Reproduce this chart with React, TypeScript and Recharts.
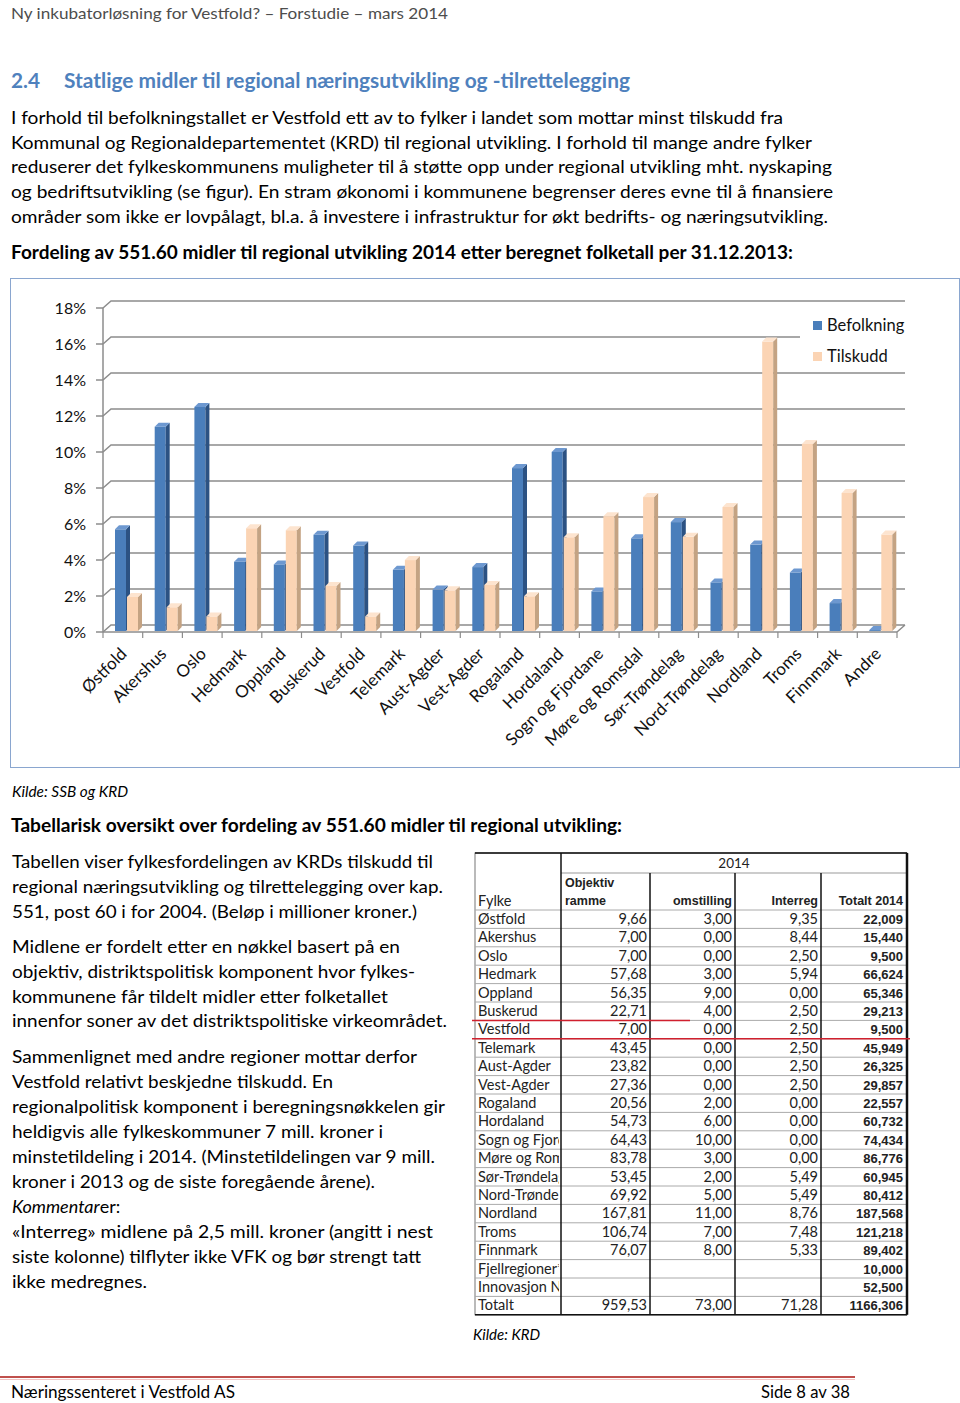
import React from "react";
import { Bar, BarChart, CartesianGrid, XAxis, YAxis } from "recharts";

// fylker in chart order
const regions = [
  "Østfold", "Akershus", "Oslo", "Hedmark", "Oppland", "Buskerud", "Vestfold",
  "Telemark", "Aust-Agder", "Vest-Agder", "Rogaland", "Hordaland",
  "Sogn og Fjordane", "Møre og Romsdal", "Sør-Trøndelag", "Nord-Trøndelag",
  "Nordland", "Troms", "Finnmark", "Andre",
];
// share of population, %
const befolkning = [
  5.65, 11.35, 12.45, 3.85, 3.7, 5.35, 4.75, 3.4, 2.3, 3.55, 9.05, 9.95, 2.2,
  5.15, 6.05, 2.7, 4.8, 3.25, 1.55, 0.05,
];
// share of grants, %
const tilskudd = [
  1.89, 1.32, 0.81, 5.71, 5.6, 2.5, 0.81, 3.94, 2.26, 2.56, 1.93, 5.21, 6.38,
  7.44, 5.23, 6.89, 16.08, 10.39, 7.67, 5.36,
];
const yTicks = [0, 2, 4, 6, 8, 10, 12, 14, 16, 18];

// table (mill. kr)
const tblFylke = [
  "Østfold", "Akershus", "Oslo", "Hedmark", "Oppland", "Buskerud", "Vestfold",
  "Telemark", "Aust-Agder", "Vest-Agder", "Rogaland", "Hordaland",
  "Sogn og Fjordane", "Møre og Romsdal", "Sør-Trøndelag", "Nord-Trøndelag",
  "Nordland", "Troms", "Finnmark", "Fjellregioner*", "Innovasjon Norge", "Totalt",
];
const tblObjektiv = [
  "9,66", "7,00", "7,00", "57,68", "56,35", "22,71", "7,00", "43,45", "23,82",
  "27,36", "20,56", "54,73", "64,43", "83,78", "53,45", "69,92", "167,81",
  "106,74", "76,07", "", "", "959,53",
];
const tblOmstilling = [
  "3,00", "0,00", "0,00", "3,00", "9,00", "4,00", "0,00", "0,00", "0,00",
  "0,00", "2,00", "6,00", "10,00", "3,00", "2,00", "5,00", "11,00", "7,00",
  "8,00", "", "", "73,00",
];
const tblInterreg = [
  "9,35", "8,44", "2,50", "5,94", "0,00", "2,50", "2,50", "2,50", "2,50",
  "2,50", "0,00", "0,00", "0,00", "0,00", "5,49", "5,49", "8,76", "7,48",
  "5,33", "", "", "71,28",
];
const tblTotalt = [
  "22,009", "15,440", "9,500", "66,624", "65,346", "29,213", "9,500", "45,949",
  "26,325", "29,857", "22,557", "60,732", "74,434", "86,776", "60,945",
  "80,412", "187,568", "121,218", "89,402", "10,000", "52,500", "1166,306",
];

const introLines = [
  "I forhold til befolkningstallet er Vestfold ett av to fylker i landet som mottar minst tilskudd fra",
  "Kommunal og Regionaldepartementet (KRD) til regional utvikling. I forhold til mange andre fylker",
  "reduserer det fylkeskommunens muligheter til å støtte opp under regional utvikling mht. nyskaping",
  "og bedriftsutvikling (se figur). En stram økonomi i kommunene begrenser deres evne til å finansiere",
  "områder som ikke er lovpålagt, bl.a. å investere i infrastruktur for økt bedrifts- og næringsutvikling.",
];
const introEnds = [783, 812, 832, 833, 828];

const leftLines = [
  "Tabellen viser fylkesfordelingen av KRDs tilskudd til",
  "regional næringsutvikling og tilrettelegging over kap.",
  "551, post 60 i for 2004. (Beløp i millioner kroner.)",
  "Midlene er fordelt etter en nøkkel basert på en",
  "objektiv, distriktspolitisk komponent hvor fylkes-",
  "kommunene får tildelt midler etter folketallet",
  "innenfor soner av det distriktspolitiske virkeområdet.",
  "Sammenlignet med andre regioner mottar derfor",
  "Vestfold relativt beskjedne tilskudd. En",
  "regionalpolitisk komponent i beregningsnøkkelen gir",
  "heldigvis alle fylkeskommuner 7 mill. kroner i",
  "minstetildeling i 2014. (Minstetildelingen var 9 mill.",
  "kroner i 2013 og de siste foregående årene).",
  "",
  "«Interreg» midlene på 2,5 mill. kroner (angitt i nest",
  "siste kolonne) tilflyter ikke VFK og bør strengt tatt",
  "ikke medregnes.",
];
const leftEnds = [433, 443, 417, 400, 415, 388, 447, 417, 333, 445, 383, 435, 375, 0, 433, 421, 147];
const leftBase = [868, 893, 918, 953, 978, 1003, 1027, 1063, 1088, 1113, 1138, 1163, 1188, 1213, 1238, 1263, 1288];

const FONT = "Lato, 'Open Sans', sans-serif";
const BLUE = "#4a7ebb";
const TAN = "#fbd4b4";

const CHART_W = 950;
const CHART_H = 490;
const MARGIN = { top: 30, right: 63, bottom: 106, left: 33 };
const PLOT_L = 93;
const PLOT_R = CHART_W - MARGIN.right;
const PLOT_BOTTOM = 354;
const BAND = (PLOT_R - PLOT_L) / regions.length;
const DX = 8;
const DY = 7;

const data = regions.map((name, i) => ({
  name,
  befolkning: befolkning[i],
  tilskudd: tilskudd[i],
}));

function T({ x, y, w, size = 18, weight = 400, italic = false, fill = "#000", anchor = "start", children }: any) {
  return (
    <text
      x={x}
      y={y}
      fontFamily={FONT}
      fontSize={size}
      fontWeight={weight}
      fontStyle={italic ? "italic" : "normal"}
      fill={fill}
      textAnchor={anchor}
      textLength={w}
      lengthAdjust={w ? "spacingAndGlyphs" : undefined}
    >
      {children}
    </text>
  );
}

function Bar3D(props: any) {
  const { x, y, width, height, front, side, top } = props;
  if (x == null || y == null) return null;
  const d = 4;
  const x0 = x + 4;
  const y0 = y - 1;
  const h = Math.max(height, 0.5);
  return (
    <g>
      <rect x={x0} y={y0} width={width} height={h} fill={front} />
      <path
        d={`M${x0 + width},${y0} L${x0 + width + d},${y0 - d} L${x0 + width + d},${y0 + h - d} L${x0 + width},${y0 + h} Z`}
        fill={side}
      />
      <path
        d={`M${x0},${y0} L${x0 + d},${y0 - d} L${x0 + width + d},${y0 - d} L${x0 + width},${y0} Z`}
        fill={top}
      />
    </g>
  );
}

function GridLine3D(props: any) {
  const { x1, x2, y1 } = props;
  const isFloor = Math.abs(y1 - PLOT_BOTTOM) < 1;
  let d = `M${x1},${y1} L${x1 + DX},${y1 - DY} L${x2 + DX},${y1 - DY}`;
  if (isFloor) d += ` M${x2},${y1} L${x2 + DX},${y1 - DY}`;
  return <path key={`g-${y1}`} d={d} fill="none" stroke="#8c8c8c" strokeWidth={1.5} />;
}

function XTick(props: any) {
  const { x, payload, index } = props;
  const lx = x + 5;
  const ly = PLOT_BOTTOM + 23;
  return (
    <g>
      <line x1={x - BAND / 2} y1={PLOT_BOTTOM} x2={x - BAND / 2} y2={PLOT_BOTTOM + 6} stroke="#8c8c8c" strokeWidth={1.2} />
      {index === regions.length - 1 && (
        <line x1={x + BAND / 2} y1={PLOT_BOTTOM} x2={x + BAND / 2} y2={PLOT_BOTTOM + 6} stroke="#8c8c8c" strokeWidth={1.2} />
      )}
      <text
        x={lx}
        y={ly}
        transform={`rotate(-45 ${lx} ${ly})`}
        textAnchor="end"
        fontFamily={FONT}
        fontSize={17}
        fill="#111"
      >
        {payload.value}
      </text>
    </g>
  );
}

function Chart() {
  return (
    <BarChart
      width={CHART_W}
      height={CHART_H}
      data={data}
      margin={MARGIN}
      barSize={11}
      barGap={1}
    >
      <CartesianGrid vertical={false} horizontal={(p: any) => <GridLine3D {...p} />} />
      <XAxis
        dataKey="name"
        height={30}
        interval={0}
        tickLine={false}
        axisLine={{ stroke: "#8c8c8c", strokeWidth: 1.5 }}
        tick={<XTick />}
      />
      <YAxis
        width={60}
        domain={[0, 18]}
        ticks={yTicks}
        interval={0}
        tickFormatter={(v: number) => `${v}%`}
        tickSize={7}
        tickMargin={10}
        axisLine={{ stroke: "#8c8c8c", strokeWidth: 1.5 }}
        tickLine={{ stroke: "#8c8c8c", strokeWidth: 1.5 }}
        tick={{ fontFamily: FONT, fontSize: 16, fill: "#111" }}
      />
      <Bar
        dataKey="befolkning"
        fill={BLUE}
        isAnimationActive={false}
        shape={(p: any) => <Bar3D {...p} front={BLUE} side="#2c5283" top="#6d98d0" />}
      />
      <Bar
        dataKey="tilskudd"
        fill={TAN}
        isAnimationActive={false}
        shape={(p: any) => <Bar3D {...p} front={TAN} side="#c4a383" top="#fde4cf" />}
      />
    </BarChart>
  );
}

function Table() {
  const left = 475;
  const cols = [561, 650, 735, 821, 907];
  const top = 853;
  const h1 = 873;
  const h2 = 910;
  const rowH = 18.4;
  const bottom = h2 + tblFylke.length * rowH;
  const rows = tblFylke.map((_, i) => h2 + i * rowH);
  return (
    <g fontFamily={FONT} fontSize={14.5} fill="#222">
      <defs>
        <clipPath id="fylkeClip">
          <rect x={left} y={h2} width={cols[0] - left - 2} height={bottom - h2} />
        </clipPath>
      </defs>
      <rect x={left} y={top} width={cols[4] - left} height={bottom - top} fill="#fff" stroke="#777" strokeWidth={1} />
      <line x1={left} y1={top} x2={cols[4]} y2={top} stroke="#111" strokeWidth={1.5} />
      <line x1={cols[0]} y1={h1} x2={cols[4]} y2={h1} stroke="#999" strokeWidth={1} />
      {rows.map((y, i) => (
        <line key={i} x1={left} y1={y} x2={cols[4]} y2={y} stroke="#aaa" strokeWidth={1} />
      ))}
      <line x1={cols[0]} y1={top} x2={cols[0]} y2={bottom} stroke="#111" strokeWidth={1.5} />
      {cols.slice(1, 4).map((c) => (
        <line key={c} x1={c} y1={h1} x2={c} y2={bottom} stroke="#111" strokeWidth={1.5} />
      ))}
      <line x1={cols[4]} y1={top} x2={cols[4]} y2={bottom} stroke="#111" strokeWidth={2.5} />
      <line x1={left} y1={bottom} x2={cols[4]} y2={bottom} stroke="#111" strokeWidth={1.5} />
      <line x1={472} y1={rows[6]} x2={690} y2={rows[6]} stroke="#d0202e" strokeWidth={1.5} />
      <line x1={472} y1={rows[7]} x2={910} y2={rows[7]} stroke="#d0202e" strokeWidth={1.5} />

      <text x={(cols[0] + cols[4]) / 2} y={868} textAnchor="middle" fontSize={13.5}>2014</text>
      <text x={478} y={906}>Fylke</text>
      <g fontFamily="'Liberation Sans', Arial, sans-serif" fontWeight={700} fontSize={12.5}>
        <text x={565} y={887}>Objektiv</text>
        <text x={565} y={905}>ramme</text>
        <text x={cols[2] - 3} y={905} textAnchor="end">omstilling</text>
        <text x={cols[3] - 3} y={905} textAnchor="end">Interreg</text>
        <text x={cols[4] - 4} y={905} textAnchor="end">Totalt 2014</text>
      </g>
      <g clipPath="url(#fylkeClip)">
        {tblFylke.map((f, i) => (
          <text key={f} x={478} y={rows[i] + 14}>{f}</text>
        ))}
      </g>
      {tblObjektiv.map((v, i) => (
        <text key={`o${i}`} x={cols[1] - 3} y={rows[i] + 14} textAnchor="end">{v}</text>
      ))}
      {tblOmstilling.map((v, i) => (
        <text key={`m${i}`} x={cols[2] - 3} y={rows[i] + 14} textAnchor="end">{v}</text>
      ))}
      {tblInterreg.map((v, i) => (
        <text key={`r${i}`} x={cols[3] - 3} y={rows[i] + 14} textAnchor="end">{v}</text>
      ))}
      <g fontFamily="'Liberation Sans', Arial, sans-serif" fontWeight={700} fontSize={13}>
        {tblTotalt.map((v, i) => (
          <text key={`t${i}`} x={cols[4] - 4} y={rows[i] + 14} textAnchor="end">{v}</text>
        ))}
      </g>
    </g>
  );
}

export default function App() {
  return (
    <div style={{ position: "absolute", left: 0, top: 0, width: 960, height: 1403, background: "#fff", overflow: "hidden" }}>
      <svg width={960} height={1403} style={{ position: "absolute", left: 0, top: 0 }}>
        <T x={11} y={19} w={437} size={16} fill="#4d4d4d">
          Ny inkubatorløsning for Vestfold? – Forstudie – mars 2014
        </T>
        <T x={11} y={88} w={29} size={20} weight={700} fill="#4f81bd">2.4</T>
        <T x={64} y={88} w={566} size={20} weight={700} fill="#4f81bd">
          Statlige midler til regional næringsutvikling og -tilrettelegging
        </T>
        {introLines.map((l, i) => (
          <T key={i} x={11} y={124 + i * 24.7} w={introEnds[i] - 11}>{l}</T>
        ))}
        <T x={11} y={259} w={782} weight={700}>
          Fordeling av 551.60 midler til regional utvikling 2014 etter beregnet folketall per 31.12.2013:
        </T>
        <T x={12} y={797} w={116} size={15} italic>Kilde: SSB og KRD</T>
        <T x={11} y={832} w={611} weight={700}>
          Tabellarisk oversikt over fordeling av 551.60 midler til regional utvikling:
        </T>
        {leftLines.map((l, i) =>
          l ? (
            <T key={i} x={12} y={leftBase[i]} w={leftEnds[i] - 12}>{l}</T>
          ) : null,
        )}
        <text x={12} y={1213} fontFamily={FONT} fontSize={18} fill="#000">
          <tspan fontStyle="italic">Kommentar</tspan>
          <tspan>er:</tspan>
        </text>
        <Table />
        <T x={473} y={1340} w={67} size={15} italic>Kilde: KRD</T>
        <line x1={0} y1={1377} x2={855} y2={1377} stroke="#c0504d" strokeWidth={2} />
        <line x1={0} y1={1379.5} x2={855} y2={1379.5} stroke="#f2c4c3" strokeWidth={1} />
        <T x={11} y={1398} w={224} size={17}>Næringssenteret i Vestfold AS</T>
        <T x={761} y={1398} w={89} size={17}>Side 8 av 38</T>
      </svg>

      <div
        style={{
          position: "absolute",
          left: 10,
          top: 278,
          width: 950,
          height: 490,
          boxSizing: "border-box",
          border: "1.5px solid #8aa6cf",
          background: "#fff",
        }}
      />
      <div style={{ position: "absolute", left: 10, top: 278 }}>
        <Chart />
      </div>
      <div
        style={{
          position: "absolute",
          left: 800,
          top: 317,
          width: 108,
          height: 52,
          background: "#fff",
          fontFamily: FONT,
          fontSize: 16.5,
          color: "#111",
        }}
      >
        <div style={{ position: "absolute", left: 13, top: 4, width: 9, height: 9, background: BLUE }} />
        <div style={{ position: "absolute", left: 27, top: -2, lineHeight: "20px", whiteSpace: "nowrap" }}>Befolkning</div>
        <div style={{ position: "absolute", left: 13, top: 35, width: 9, height: 9, background: TAN }} />
        <div style={{ position: "absolute", left: 27, top: 29, lineHeight: "20px", whiteSpace: "nowrap" }}>Tilskudd</div>
      </div>
    </div>
  );
}
